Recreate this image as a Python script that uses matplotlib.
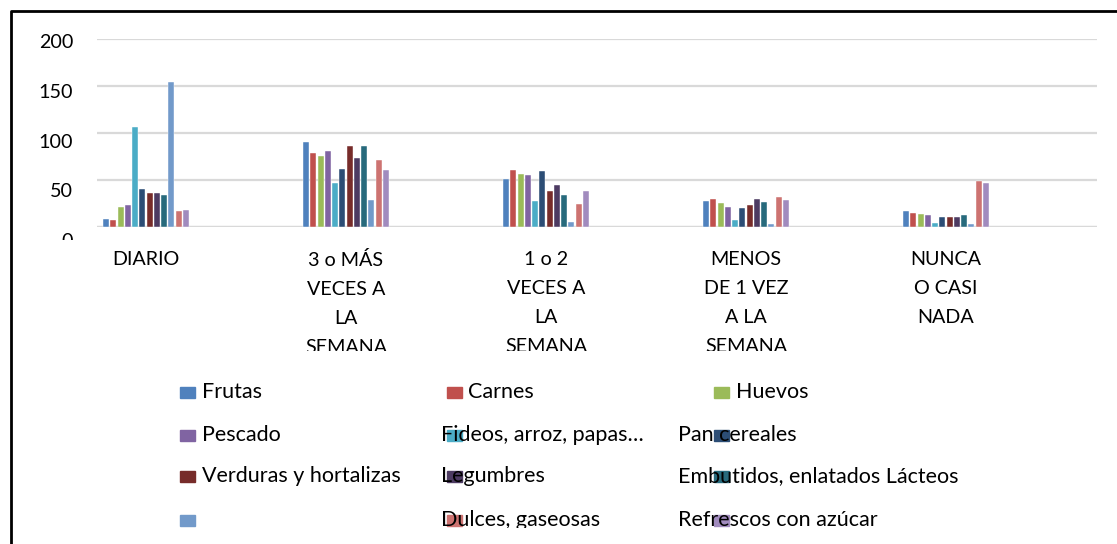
import numpy as np
import matplotlib
matplotlib.use("Agg")
import matplotlib.pyplot as plt
from matplotlib.patches import Rectangle
from matplotlib.lines import Line2D
from matplotlib.transforms import Bbox

plt.rcParams['font.family'] = ['Lato', 'DejaVu Sans']

# categories on the x axis
categories = ["DIARIO", "3 o MÁS\nVECES A\nLA\nSEMANA", "1 o 2\nVECES A\nLA\nSEMANA",
              "MENOS\nDE 1 VEZ\nA LA\nSEMANA", "NUNCA\nO CASI\nNADA"]

# one list per food group (values per category)
frutas     = [9, 90, 51, 28, 17]
carnes     = [8, 79, 61, 30, 15]
huevos     = [21, 76, 56, 26, 14]
pescado    = [24, 81, 55, 22, 13]
fideos     = [106, 47, 28, 8, 5]
pan        = [41, 62, 60, 20, 11]
verduras   = [36, 86, 39, 24, 11]
legumbres  = [36, 73, 45, 30, 11]
embutidos  = [34, 86, 34, 27, 13]
lacteos    = [154, 29, 6, 3, 3]
dulces     = [17, 71, 25, 32, 49]
refrescos  = [18, 61, 38, 29, 47]

series = [frutas, carnes, huevos, pescado, fideos, pan, verduras,
          legumbres, embutidos, lacteos, dulces, refrescos]
colors = ["#4F81BD", "#C0504D", "#9BBB59", "#8064A2", "#4BACC6", "#2C4D75",
          "#772C2A", "#4D3B62", "#276A7C", "#729ACA", "#CD7371", "#A18BBE"]

yticks = [0, 50, 100, 150, 200]

# legend texts as they appear (row by row, 3 columns)
legend_texts = ["Frutas", "Carnes", "Huevos",
                "Pescado", "Fideos, arroz, papas…", "Pan cereales",
                "Verduras y hortalizas", "Legumbres", "Embutidos, enlatados Lácteos",
                "", "Dulces, gaseosas", "Refrescos con azúcar"]

W, H = 1117, 544
fig = plt.figure(figsize=(W / 100, H / 100), dpi=100)
ax = fig.add_axes([97 / W, 1 - 227.3 / H, 1000 / W, 188.6 / H])

x = np.arange(len(categories))
pitch = 0.03625
bw = 0.03
for k, (vals, c) in enumerate(zip(series, colors)):
    ax.bar(x + (k - 5.5) * pitch, vals, bw, color=c, zorder=3,
           edgecolor="white", linewidth=0.3)

ax.set_xlim(-0.245, 4.755)
ax.set_ylim(0, 200)
ax.set_yticks(yticks)
ax.set_yticklabels([])
ax.yaxis.grid(True, color="#D9D9D9", linewidth=1.6, zorder=0)
for s in ax.spines.values():
    s.set_visible(False)
ax.tick_params(axis="both", length=0, labelsize=14.2, colors="black")
ax.tick_params(axis="x", pad=17)
ax.set_xticks(x)
ax.set_xticklabels(categories, linespacing=1.87, va="top")
ax.axhline(0, color="#D9D9D9", linewidth=1.6, zorder=2)

# value labels sit on a slightly stretched scale, as in the original
lab_ax = fig.add_axes([73 / W, 1 - 240 / H, 1 / W, 199 / H])
lab_ax.set_ylim(0, 200)
lab_ax.set_yticks(yticks)
lab_ax.patch.set_visible(False)
lab_ax.set_xticks([])
for s in lab_ax.spines.values():
    s.set_visible(False)
lab_ax.tick_params(axis="y", length=0, labelsize=14.2, pad=0)
for t in lab_ax.get_yticklabels():
    t.set_clip_on(True)
    t.set_clip_box(Bbox.from_extents(0, H - 240, 97, H))

# clip category labels like the original chart area
for t in ax.get_xticklabels():
    t.set_clip_on(True)
    t.set_clip_box(Bbox.from_extents(0, H - 351, W, H))

# manual legend
col_sw = [180, 447, 714]
col_txt = [202, 468, 736]
col_txt_shift = [202, 441, 678]
rows_y = [392.5, 435, 476, 520]
for i, (txt, c) in enumerate(zip(legend_texts, colors)):
    r, cidx = divmod(i, 3)
    yc = rows_y[r]
    fig.patches.append(Rectangle((col_sw[cidx] / W, 1 - (yc + 5.5) / H), 15 / W, 11 / H,
                                 transform=fig.transFigure, color=c, figure=fig, zorder=1))
    tx = col_txt[cidx] if r == 0 else col_txt_shift[cidx]
    t = fig.text(tx / W, 1 - yc / H, txt, fontsize=15.5, va="center", ha="left", zorder=2)
    t.set_clip_on(True)
    t.set_clip_box(Bbox.from_extents(0, H - 528, W, H))

# outer frame
fig.add_artist(Line2D([11 / W, 11 / W, 1], [0, 1 - 10.5 / H, 1 - 10.5 / H],
                      transform=fig.transFigure, color="black", linewidth=2))

fig.savefig("out.png", dpi=100)
